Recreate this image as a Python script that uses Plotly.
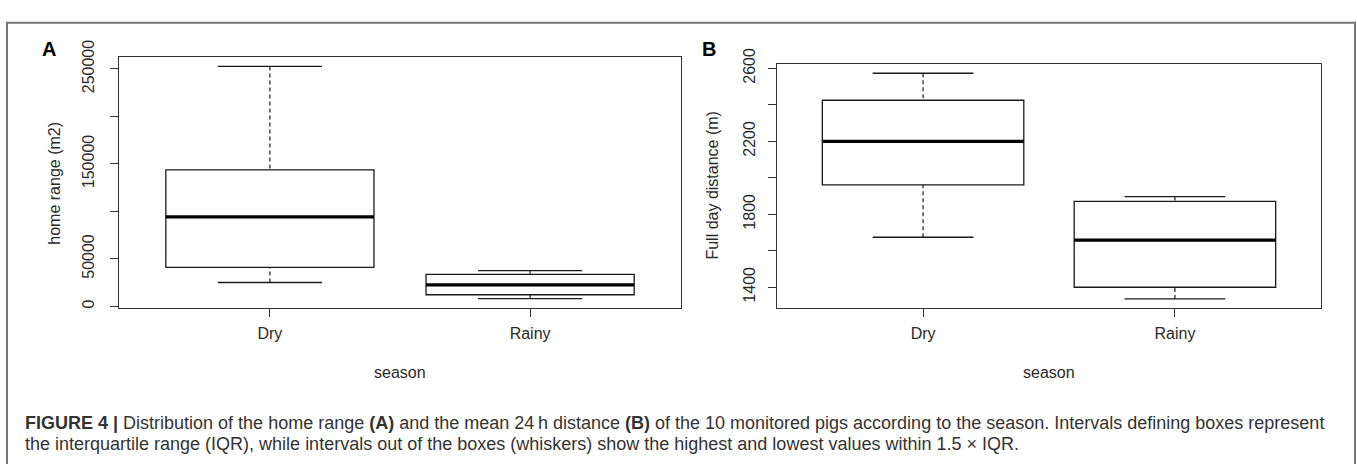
import plotly.graph_objects as go

# ---------------- data ----------------
seasons = ["Dry", "Rainy"]
season_pos = [1, 2]

home_lower = [25100, 8100]
home_q1 = [41000, 12200]
home_median = [94300, 22700]
home_q3 = [143800, 33600]
home_upper = [252600, 37600]

dist_lower = [1674, 1336]
dist_q1 = [1961, 1400]
dist_median = [2200, 1658]
dist_q3 = [2425, 1871]
dist_upper = [2573, 1897]

home_tickvals = [0, 50000, 100000, 150000, 200000, 250000]
home_ticktext = ["0", "50000", "", "150000", "", "250000"]
dist_tickvals = [1400, 1600, 1800, 2000, 2200, 2400, 2600]
dist_ticktext = ["1400", "", "1800", "", "2200", "", "2600"]

W, H = 1357, 464
FONT = "Liberation Sans, Arial, sans-serif"
INK = "#1a1a1a"
BOXW = 0.8


def px_x(p):
    return p / W


def px_y(p):
    return 1 - p / H


fig = go.Figure()


def add_panel(xa, ya, lower, q1, med, q3, upper):
    for i, c in enumerate(season_pos):
        # box body
        fig.add_trace(go.Box(
            x=[c], q1=[q1[i]], median=[med[i]], q3=[q3[i]],
            lowerfence=[q1[i]], upperfence=[q3[i]],
            width=BOXW, whiskerwidth=0, fillcolor="white",
            line=dict(color=INK, width=1.3), boxpoints=False,
            xaxis=xa, yaxis=ya, showlegend=False, hoverinfo="skip"))
        # thick median
        fig.add_trace(go.Scatter(
            x=[c - BOXW / 2, c + BOXW / 2], y=[med[i], med[i]], mode="lines",
            line=dict(color="black", width=3.2), xaxis=xa, yaxis=ya,
            showlegend=False, hoverinfo="skip"))
        # dashed whiskers
        for a, b in ((upper[i], q3[i]), (lower[i], q1[i])):
            fig.add_trace(go.Scatter(
                x=[c, c], y=[a, b], mode="lines",
                line=dict(color=INK, width=1.2, dash="4px,3px"),
                xaxis=xa, yaxis=ya, showlegend=False, hoverinfo="skip"))
        # staples
        for v in (upper[i], lower[i]):
            fig.add_trace(go.Scatter(
                x=[c - BOXW / 4, c + BOXW / 4], y=[v, v], mode="lines",
                line=dict(color=INK, width=1.3),
                xaxis=xa, yaxis=ya, showlegend=False, hoverinfo="skip"))


add_panel("x", "y", home_lower, home_q1, home_median, home_q3, home_upper)
add_panel("x2", "y2", dist_lower, dist_q1, dist_median, dist_q3, dist_upper)


def yrange(lo_arr, hi_arr):
    lo, hi = min(lo_arr), max(hi_arr)
    pad = 0.04 * (hi - lo)
    return [lo - pad, hi + pad]


xr = [0.5 - 0.08, len(seasons) + 0.5 + 0.08]

axis_common = dict(showline=True, mirror=True, linecolor="#333333", linewidth=1.3,
                   ticks="outside", ticklen=8, tickwidth=1.2, tickcolor="#333333",
                   showgrid=False, zeroline=False,
                   tickfont=dict(family=FONT, size=16, color="#2a2a2a"))

fig.update_layout(
    width=W, height=H, margin=dict(l=0, r=0, t=0, b=0),
    paper_bgcolor="white", plot_bgcolor="white",
    xaxis=dict(domain=[px_x(119), px_x(681)], range=xr, anchor="y",
               tickvals=season_pos, ticktext=seasons, ticklabelstandoff=3, **axis_common),
    yaxis=dict(domain=[px_y(302), px_y(41.7)], range=yrange(home_lower, home_upper),
               anchor="x", tickvals=home_tickvals, ticktext=home_ticktext,
               tickangle=-90, ticklabelstandoff=9, **axis_common),
    xaxis2=dict(domain=[px_x(777), px_x(1321)], range=xr, anchor="y2",
                tickvals=season_pos, ticktext=seasons, ticklabelstandoff=3, **axis_common),
    yaxis2=dict(domain=[px_y(302), px_y(49)], range=yrange(dist_lower, dist_upper),
                anchor="x2", tickvals=dist_tickvals, ticktext=dist_ticktext,
                tickangle=-90, ticklabelstandoff=6, **axis_common),
)

ann = []
lab_font = dict(family=FONT, size=16, color="#2a2a2a")
ann.append(dict(x=px_x(55), y=px_y(172), text="home range (m2)", textangle=-90,
                font=lab_font))
ann.append(dict(x=px_x(713), y=px_y(175), text="Full day distance (m)", textangle=-90,
                font=lab_font))
ann.append(dict(x=px_x(400), y=px_y(369), text="season", font=lab_font))
ann.append(dict(x=px_x(1049), y=px_y(369), text="season", font=lab_font))
ann.append(dict(x=px_x(49), y=px_y(33), text="<b>A</b>",
                font=dict(family=FONT, size=20, color="black")))
ann.append(dict(x=px_x(709), y=px_y(33), text="<b>B</b>",
                font=dict(family=FONT, size=20, color="black")))

cap_font = dict(family=FONT, size=18, color="#333333")
ann.append(dict(x=px_x(23), y=px_y(421), xanchor="left",
                text="<b>FIGURE 4 |</b> Distribution of the home range <b>(A)</b> and the mean 24\u2009h distance "
                     "<b>(B)</b> of the 10 monitored pigs according to the season. Intervals defining boxes represent",
                font=cap_font))
ann.append(dict(x=px_x(23), y=px_y(443), xanchor="left",
                text="the interquartile range (IQR), while intervals out of the boxes (whiskers) show the highest "
                     "and lowest values within 1.5 \u00d7 IQR.",
                font=cap_font))
for a in ann:
    a.setdefault("xref", "paper")
    a.setdefault("yref", "paper")
    a.setdefault("showarrow", False)
    a.setdefault("yanchor", "middle")
    a.setdefault("xanchor", "center")
fig.update_layout(annotations=ann)

fig.add_shape(type="rect", xref="paper", yref="paper",
              x0=px_x(7), x1=px_x(1355), y0=px_y(475), y1=px_y(6),
              line=dict(color="#777777", width=2), fillcolor="rgba(0,0,0,0)", layer="below")

fig.write_html("out.html")
